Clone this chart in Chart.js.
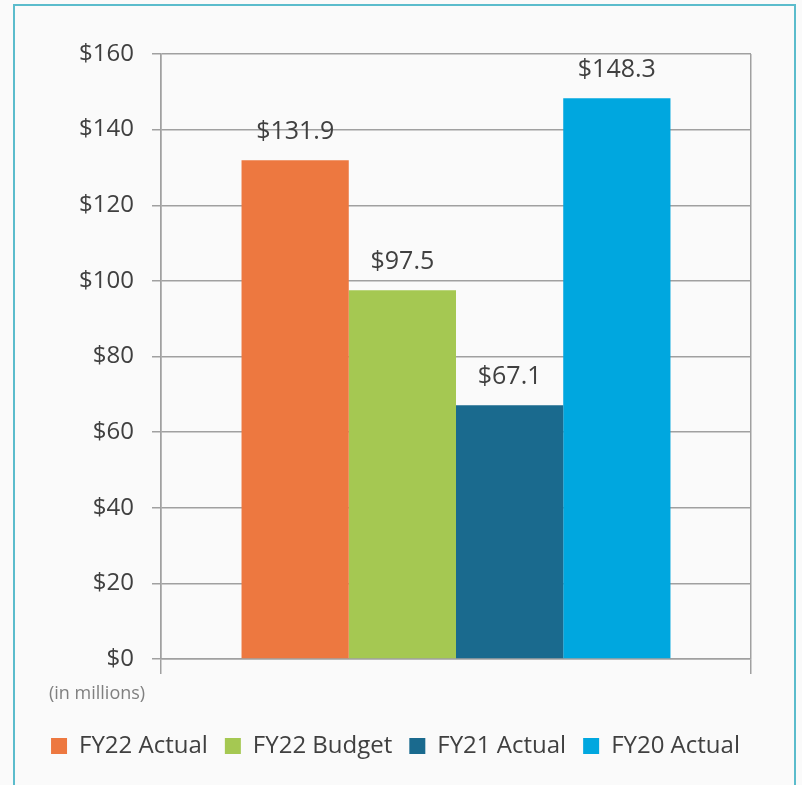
<!DOCTYPE html>
<html lang="en">
<head>
  <meta charset="UTF-8" />
  <title>FY Comparison</title>
  <script src="https://cdn.jsdelivr.net/npm/chart.js"></script>
  <style>
    html, body {
      margin: 0;
      padding: 0;
      background: #fafafa;
      overflow: hidden;
    }
    .frame {
      position: absolute;
      left: 13px;
      top: 4px;
      width: 783px;
      height: 800px;
      border: 2px solid #5bbccc;
      box-sizing: border-box;
    }
    #wrap {
      position: absolute;
      left: 0;
      top: 0;
      width: 802px;
      height: 785px;
    }
  </style>
</head>
<body>
  <div class="frame"></div>
  <div id="wrap"><canvas id="fyChart"></canvas></div>

  <script>
    const seriesNames = ['FY22 Actual', 'FY22 Budget', 'FY21 Actual', 'FY20 Actual'];
    const seriesValues = [131.9, 97.5, 67.1, 148.3];
    const seriesColors = ['#ed7840', '#a5c852', '#1a6a8e', '#00a7df'];
    const yTicks = [0, 20, 40, 60, 80, 100, 120, 140, 160];
    const unitNote = '(in millions)';

    const FONT = "'Open Sans', 'Noto Sans', sans-serif";
    const GRID = '#a0a0a0';

    // value labels over each bar + the unit note under the axis
    const barLabels = {
      id: 'barLabels',
      afterDatasetsDraw(chart) {
        const ctx = chart.ctx;
        ctx.save();
        ctx.font = '25px ' + FONT;
        ctx.fillStyle = '#404040';
        ctx.textAlign = 'center';
        ctx.textBaseline = 'middle';
        chart.data.datasets.forEach((ds, i) => {
          const bar = chart.getDatasetMeta(i).data[0];
          ctx.fillText('$' + ds.data[0].toFixed(1), bar.x, bar.y - 28);
        });
        ctx.font = '18px ' + FONT;
        ctx.fillStyle = '#808080';
        ctx.textAlign = 'left';
        ctx.fillText(unitNote, 49, chart.chartArea.bottom + 35);
        ctx.restore();
      }
    };

    // nudge the legend so it is centred under the frame, not the plot
    const legendShift = {
      id: 'legendShift',
      afterLayout(chart) {
        chart.legend.left += 20;
        chart.legend.right += 20;
      }
    };

    new Chart(document.getElementById('fyChart'), {
      type: 'bar',
      data: {
        labels: [''],
        datasets: seriesNames.map((name, i) => ({
          label: name,
          data: [seriesValues[i]],
          backgroundColor: seriesColors[i],
          borderWidth: 0
        }))
      },
      options: {
        responsive: true,
        maintainAspectRatio: false,
        animation: false,
        categoryPercentage: 0.727,
        barPercentage: 1,
        layout: { padding: { left: 0, right: 51, top: 54, bottom: 17 } },
        plugins: {
          tooltip: { enabled: false },
          legend: {
            position: 'bottom',
            labels: {
              boxWidth: 16,
              boxHeight: 16,
              padding: 17,
              color: '#404040',
              font: { family: FONT, size: 24 }
            }
          }
        },
        scales: {
          x: {
            afterFit: s => { s.height = 58; },
            grid: { color: GRID, lineWidth: 1.5, tickLength: 15, offset: true },
            border: { color: GRID, width: 1.5 },
            ticks: { display: false }
          },
          y: {
            min: 0,
            max: 160,
            afterFit: s => { s.width = 161; },
            afterBuildTicks: s => { s.ticks = yTicks.map(v => ({ value: v })); },
            grid: { color: GRID, lineWidth: 1.5, tickLength: 9 },
            border: { color: GRID, width: 1.5 },
            ticks: {
              padding: 18,
              color: '#404040',
              font: { family: FONT, size: 24 },
              callback: v => '$' + v
            }
          }
        }
      },
      plugins: [barLabels, legendShift]
    });
  </script>
</body>
</html>
